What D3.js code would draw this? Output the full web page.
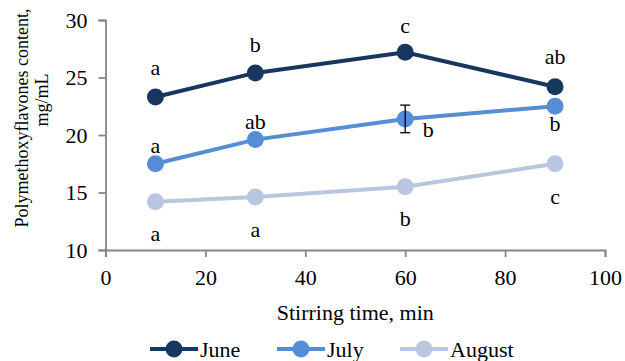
<!DOCTYPE html>
<html>
<head>
<meta charset="utf-8">
<script src="https://cdn.jsdelivr.net/npm/d3@7"></script>
<style>
  body { margin: 0; background: #fff; }
  svg { display: block; font-family: 'Liberation Serif', 'Times New Roman', serif; }
</style>
</head>
<body>
<div id="chart"></div>
<script>
// Data

let times = [10, 30, 60, 90]
let june = [23.3, 25.4, 27.2, 24.2]
let july = [17.5, 19.6, 21.4, 22.5]
let august = [14.2, 14.6, 15.5, 17.5]
let julyError = [0, 0, 1.2, 0]

let juneLetters = [`a`, `b`, `c`, `ab`]
let julyLetters = [`a`, `ab`, `b`, `b`]
let augustLetters = [`a`, `a`, `b`, `c`]

let xTicks = [0, 20, 40, 60, 80, 100]
let yTicks = [10, 15, 20, 25, 30]

let seriesNames = [`June`, `July`, `August`]

// Colour

let colors = [`#17375e`, `#558ed5`, `#b9c6df`]
let gray = `#868686`

// Spatial

let width = 625
let height = 361
let fontSize = `22px`

let x = d3.scaleLinear().domain([0, 100]).range([105.5, 605])
let y = d3.scaleLinear().domain([10, 30]).range([250, 20])

let svg = d3.select(`#chart`)
  .append(`svg`)
  .attr(`width`, width)
  .attr(`height`, height)

// Axes

let xAxis = svg.append(`g`)
  .attr(`transform`, `translate(0,${y(10)})`)
  .call(d3.axisBottom(x).tickValues(xTicks).tickSize(7).tickPadding(12))

let yAxis = svg.append(`g`)
  .attr(`transform`, `translate(${x(0)},0)`)
  .call(d3.axisLeft(y).tickValues(yTicks).tickSize(7).tickPadding(11))

;[xAxis, yAxis].forEach(a => {
  a.select(`.domain`).attr(`stroke`, gray).attr(`stroke-width`, 1.8)
  a.selectAll(`.tick line`).attr(`stroke`, gray).attr(`stroke-width`, 1.8)
  a.selectAll(`.tick text`)
    .attr(`fill`, `#000`)
    .style(`font-size`, fontSize)
    .style(`font-family`, `'Liberation Serif', serif`)
})

// Axis titles

svg.append(`text`)
  .attr(`x`, (x(0) + x(100)) / 2)
  .attr(`y`, 320)
  .attr(`text-anchor`, `middle`)
  .style(`font-size`, fontSize)
  .text(`Stirring time, min`)

svg.append(`text`)
  .attr(`transform`, `translate(28,118) rotate(-90)`)
  .attr(`text-anchor`, `middle`)
  .style(`font-size`, `18px`)
  .text(`Polymethoxyflavones content,`)

svg.append(`text`)
  .attr(`transform`, `translate(48,100) rotate(-90)`)
  .attr(`text-anchor`, `middle`)
  .style(`font-size`, `18px`)
  .text(`mg/mL`)

// Lines and points

let series = [june, july, august]
let line = d3.line().x((d, i) => x(times[i])).y(d => y(d))

// draw back to front so June sits on top
d3.range(series.length).reverse().forEach(idx => {
  svg.append(`path`)
    .datum(series[idx])
    .attr(`d`, line)
    .attr(`fill`, `none`)
    .attr(`stroke`, colors[idx])
    .attr(`stroke-width`, 4)

  svg.selectAll(null)
    .data(series[idx])
    .join(`circle`)
    .attr(`cx`, (d, i) => x(times[i]))
    .attr(`cy`, d => y(d))
    .attr(`r`, 8.5)
    .attr(`fill`, colors[idx])
})

// Error bar (July, 60 min)

julyError.forEach((e, i) => {
  if (!e) return
  let cx = x(times[i])
  let top = y(july[i] + e)
  let bottom = y(july[i] - e)
  let g = svg.append(`g`).attr(`stroke`, `#000`).attr(`stroke-width`, 1.3)
  g.append(`line`).attr(`x1`, cx).attr(`x2`, cx).attr(`y1`, top).attr(`y2`, bottom)
  g.append(`line`).attr(`x1`, cx - 5).attr(`x2`, cx + 5).attr(`y1`, top).attr(`y2`, top)
  g.append(`line`).attr(`x1`, cx - 5).attr(`x2`, cx + 5).attr(`y1`, bottom).attr(`y2`, bottom)
})

// Significance letters (offsets in px relative to each point)

let letterOffsets = [
  [[0, -29], [0, -28], [0, -26], [0, -29]],
  [[0, -17], [0, -17], [23, 11], [0, 18]],
  [[0, 33], [0, 33], [0, 33], [0, 34]],
]
let letterSets = [juneLetters, julyLetters, augustLetters]

letterSets.forEach((letters, k) => {
  svg.selectAll(null)
    .data(letters)
    .join(`text`)
    .attr(`x`, (d, i) => x(times[i]) + letterOffsets[k][i][0])
    .attr(`y`, (d, i) => y(series[k][i]) + letterOffsets[k][i][1])
    .attr(`text-anchor`, `middle`)
    .attr(`dy`, `0.3em`)
    .style(`font-size`, fontSize)
    .text(d => d)
})

// Legend

let legendX = [150, 277, 400]
let legend = svg.append(`g`)
seriesNames.forEach((name, i) => {
  let lx = legendX[i]
  legend.append(`line`)
    .attr(`x1`, lx).attr(`x2`, lx + 48)
    .attr(`y1`, 349).attr(`y2`, 349)
    .attr(`stroke`, colors[i]).attr(`stroke-width`, 4)
  legend.append(`circle`)
    .attr(`cx`, lx + 24).attr(`cy`, 349).attr(`r`, 8.5)
    .attr(`fill`, colors[i])
  legend.append(`text`)
    .attr(`x`, lx + 50).attr(`y`, 357)
    .style(`font-size`, fontSize)
    .text(name)
})
</script>
</body>
</html>
